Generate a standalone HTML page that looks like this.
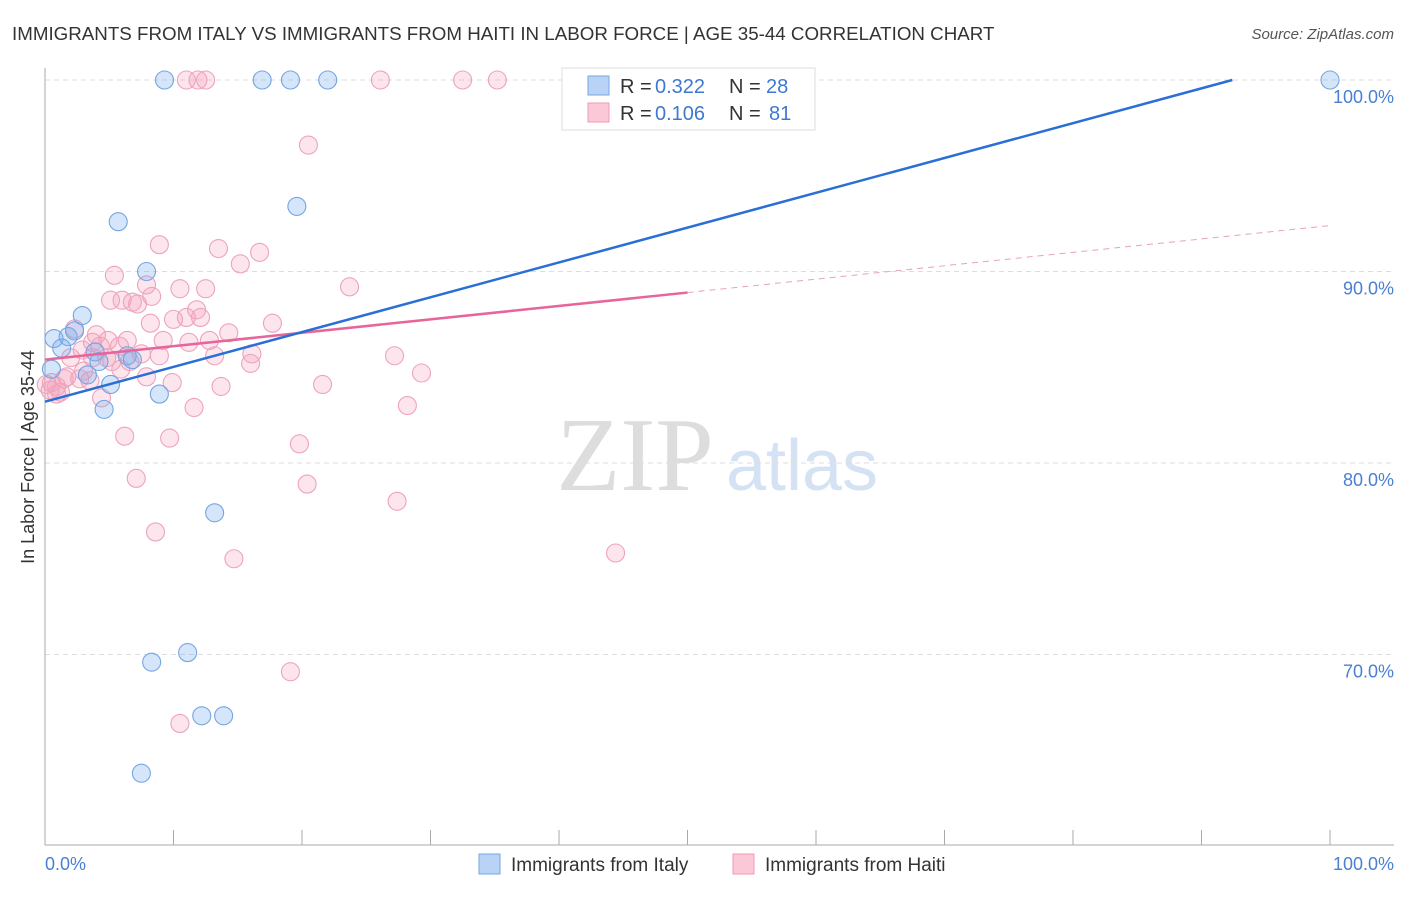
<!DOCTYPE html>
<html><head><meta charset="utf-8"><style>
body{margin:0;background:#fff;font-family:"Liberation Sans",sans-serif}
</style></head><body>
<svg id="chart" width="1406" height="892" xmlns="http://www.w3.org/2000/svg" font-family="Liberation Sans, sans-serif">
<text x="12" y="40" font-size="18.75" fill="#333">IMMIGRANTS FROM ITALY VS IMMIGRANTS FROM HAITI IN LABOR FORCE | AGE 35-44 CORRELATION CHART</text>
<text x="1394" y="39" font-size="15" fill="#555" text-anchor="end" font-style="italic">Source: ZipAtlas.com</text>
<text x="635" y="490" font-size="105" fill="#ddd" text-anchor="middle" font-family="Liberation Serif, serif">ZIP</text>
<text x="802" y="490" font-size="72" fill="#d4e2f4" text-anchor="middle">atlas</text>
<g id="grid"></g><g id="axes"></g><g id="marks"></g>
<text transform="translate(34,457) rotate(-90)" font-size="18" fill="#333" text-anchor="middle">In Labor Force | Age 35-44</text>
<text x="45" y="870" font-size="18" fill="#4a7fd4">0.0%</text>
<text x="1394" y="870" font-size="18" fill="#4a7fd4" text-anchor="end">100.0%</text>
<g>
<rect x="562" y="68" width="253" height="62" fill="#fff" stroke="#ddd"/>
<rect x="588" y="76" width="21" height="19" fill="#b8d3f5" stroke="#7aa7e0"/>
<rect x="588" y="103" width="21" height="19" fill="#fbc8d8" stroke="#ef9ab6"/>
<text x="620" y="93" font-size="20" fill="#333">R = </text>
<text x="655" y="93" font-size="20" fill="#3f78d0">0.322</text>
<text x="729" y="93" font-size="20" fill="#333">N = </text>
<text x="766" y="93" font-size="20" fill="#3f78d0">28</text>
<text x="620" y="120" font-size="20" fill="#333">R = </text>
<text x="655" y="120" font-size="20" fill="#3f78d0">0.106</text>
<text x="729" y="120" font-size="20" fill="#333">N = </text>
<text x="769" y="120" font-size="20" fill="#3f78d0">81</text>
</g>
<g>
<rect x="479" y="854" width="21" height="20" fill="#b8d3f5" stroke="#7aa7e0"/>
<text x="511" y="871" font-size="19" fill="#333">Immigrants from Italy</text>
<rect x="733" y="854" width="21" height="20" fill="#fbc8d8" stroke="#ef9ab6"/>
<text x="765" y="871" font-size="19" fill="#333">Immigrants from Haiti</text>
</g>
</svg>
<script>
const yTicks=[100,90,80,70];
const yTickLabels=["100.0%","90.0%","80.0%","70.0%"];
const italyX=[9.3,16.9,19.1,22.0,100,19.6,5.7,7.9,2.9,0.7,1.8,2.3,1.3,3.9,6.4,6.8,4.2,0.5,3.3,5.1,8.9,4.6,13.2,8.3,11.1,12.2,13.9,7.5];
const italyY=[100,100,100,100,100,93.4,92.6,90.0,87.7,86.5,86.6,86.9,86.0,85.8,85.6,85.4,85.3,84.9,84.6,84.1,83.6,82.8,77.4,69.6,70.1,66.8,66.8,63.8];
const haitiX=[11.0,11.9,12.5,26.1,32.5,35.2,20.5,8.9,13.5,16.7,15.2,5.4,23.7,7.9,10.5,12.5,8.3,6.0,6.8,7.2,11.8,11.0,10.0,8.2,17.7,12.1,14.3,2.3,4.9,6.4,9.2,11.2,3.7,4.3,5.8,2.9,7.5,13.2,16.1,27.2,2.0,5.2,3.7,16.0,5.9,3.0,1.7,7.9,9.9,3.5,0.5,0.1,0.9,1.2,0.4,29.3,21.6,13.7,4.4,11.6,28.2,6.2,9.7,19.8,7.1,20.4,27.4,8.6,14.7,44.4,19.1,10.5,4.8,1.5,6.6,0.9,8.9,4.0,5.1,12.8,2.7];
const haitiY=[100,100,100,100,100,100,96.6,91.4,91.2,91.0,90.4,89.8,89.2,89.3,89.1,89.1,88.7,88.5,88.4,88.3,88.0,87.6,87.5,87.3,87.3,87.6,86.8,87.0,86.4,86.4,86.4,86.3,86.3,86.1,86.1,85.9,85.7,85.6,85.7,85.6,85.5,85.3,85.5,85.2,84.9,84.8,84.5,84.5,84.2,84.3,84.2,84.1,84.0,83.7,83.8,84.7,84.1,84.0,83.4,82.9,83.0,81.4,81.3,81.0,79.2,78.9,78.0,76.4,75.0,75.3,69.1,66.4,85.5,84.4,85.3,83.6,85.6,86.7,88.5,86.4,84.4];
const italyFit=[83.2,100];
const italyFitEndX=92.4;
const haitiFit=[85.4,92.4];
const haitiSolidEnd=50;
const NS="http://www.w3.org/2000/svg";
const sx=v=>45+v*12.85, sy=v=>80+(100-v)*19.15;
function mk(t,a,p){const e=document.createElementNS(NS,t);for(const k in a)e.setAttribute(k,a[k]);document.getElementById(p).appendChild(e);return e;}
yTicks.forEach((t,i)=>{
 const g=mk('line',{x1:45,x2:1394,y1:sy(t),y2:sy(t),stroke:'#ddd','stroke-dasharray':'5,4'},'grid');
 
 
 const l=mk('text',{x:1394,y:sy(t)+23,'font-size':18,fill:'#4a7fd4','text-anchor':'end'},'axes');
 l.textContent=yTickLabels[i];
 
 
});
const ax=mk('line',{x1:45,x2:45,y1:68,y2:845,stroke:'#aaa'},'axes');


const bx=mk('line',{x1:45,x2:1394,y1:845,y2:845,stroke:'#aaa'},'axes');


for(let i=0;i<=10;i++){const t=mk('line',{x1:sx(i*10),x2:sx(i*10),y1:830,y2:845,stroke:'#aaa'},'axes');
 
 }
haitiX.forEach((x,i)=>{const c=mk('circle',{cx:sx(x),cy:sy(haitiY[i]),r:9,fill:'rgba(244,160,188,0.28)',stroke:'#eea3bd','stroke-width':1.1},'marks');
 
 });
italyX.forEach((x,i)=>{const c=mk('circle',{cx:sx(x),cy:sy(italyY[i]),r:9,fill:'rgba(120,172,238,0.3)',stroke:'#74a5e2','stroke-width':1.1},'marks');
 
 });
const hy=x=>haitiFit[0]+(haitiFit[1]-haitiFit[0])*x/100;
const l1=mk('line',{x1:sx(0),y1:sy(hy(0)),x2:sx(haitiSolidEnd),y2:sy(hy(haitiSolidEnd)),stroke:'#e8659a','stroke-width':2.5},'marks');


const l2=mk('line',{x1:sx(haitiSolidEnd),y1:sy(hy(haitiSolidEnd)),x2:sx(100),y2:sy(hy(100)),stroke:'#e8a0bb','stroke-width':1,'stroke-dasharray':'6,5'},'marks');


const l3=mk('line',{x1:sx(0),y1:sy(italyFit[0]),x2:sx(italyFitEndX),y2:sy(italyFit[1]),stroke:'#2a6fd6','stroke-width':2.5},'marks');


</script>
</body></html>
